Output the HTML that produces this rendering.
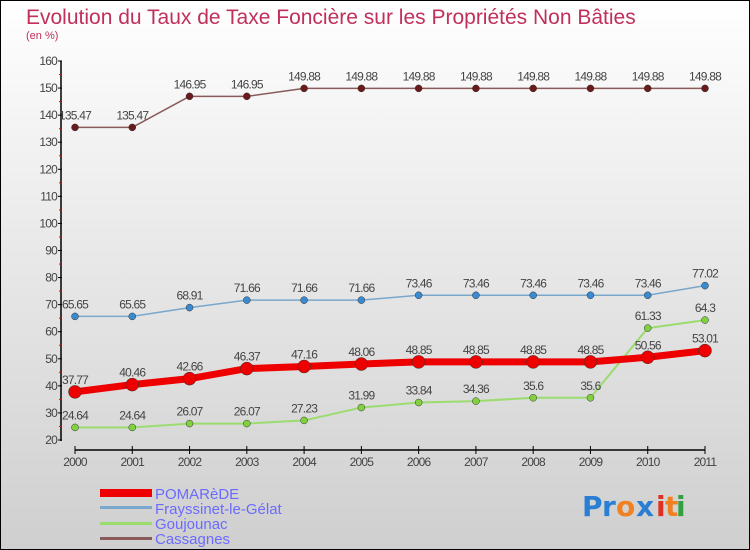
<!DOCTYPE html>
<html><head><meta charset="utf-8"><style>
html,body{margin:0;padding:0}
body{width:750px;height:550px;overflow:hidden;font-family:"Liberation Sans",sans-serif}
#wrap{position:absolute;left:0;top:0;width:748px;height:548px;border:1px solid #000;background:linear-gradient(#fff 0%,#f0f0f0 30%,#cfcfcf 100%)}
</style></head><body>
<div id="wrap">
<svg id="chart" width="750" height="550" style="position:absolute;left:-1px;top:-1px">
<text x="26" y="24" font-size="21" fill="#c0305a">Evolution du Taux de Taxe Foncière sur les Propriétés Non Bâties</text>
<text x="26" y="39" font-size="11" fill="#c0305a">(en %)</text>
<g id="axes"></g>
<g id="series"></g>
<g id="legend">
<rect x="100" y="489" width="52" height="8" fill="#e00"/>
<text x="155" y="499" font-size="15" fill="#6b6bff">POMARèDE</text>
<rect x="100" y="506" width="52" height="3" fill="#7aa7cc"/>
<text x="155" y="514" font-size="15" fill="#6b6bff">Frayssinet-le-Gélat</text>
<rect x="100" y="522" width="52" height="3" fill="#9bdc6e"/>
<text x="155" y="529" font-size="15" fill="#6b6bff">Goujounac</text>
<rect x="100" y="537" width="52" height="3" fill="#8a5a5a"/>
<text x="155" y="544" font-size="15" fill="#6b6bff">Cassagnes</text>
</g>
<g font-size="28" font-family="'DejaVu Sans',sans-serif" font-weight="bold">
<text x="582" y="516" fill="#2a7fd4">P</text><text x="602" y="516" fill="#2a7fd4">r</text><text x="616" y="516" fill="#f08020">o</text><text x="636" y="516" fill="#2a7fd4">x</text><text x="656" y="516" fill="#e03020">i</text><text x="665" y="516" fill="#f08020">t</text><text x="676" y="516" fill="#30a040">i</text>
</g>
</svg>
</div>
<script>
const years=["2000","2001","2002","2003","2004","2005","2006","2007","2008","2009","2010","2011"];
const yTicks=[20,30,40,50,60,70,80,90,100,110,120,130,140,150,160];
const pomarede=[37.77,40.46,42.66,46.37,47.16,48.06,48.85,48.85,48.85,48.85,50.56,53.01];
const frayssinet=[65.65,65.65,68.91,71.66,71.66,71.66,73.46,73.46,73.46,73.46,73.46,77.02];
const goujounac=[24.64,24.64,26.07,26.07,27.23,31.99,33.84,34.36,35.6,35.6,61.33,64.3];
const cassagnes=[135.47,135.47,146.95,146.95,149.88,149.88,149.88,149.88,149.88,149.88,149.88,149.88];
const NS="http://www.w3.org/2000/svg";
const x=i=>75+i*(630/11);
const y=v=>440-(v-20)*(379/140);
function mk(tag,attrs,parent){const e=document.createElementNS(NS,tag);for(const k in attrs)e.setAttribute(k,attrs[k]);parent.appendChild(e);return e;}
const ax=document.getElementById('axes');
let l=mk('line',{x1:61,y1:61,x2:61,y2:441,stroke:'#000','stroke-width':1.5},ax);


yTicks.forEach((t,i)=>{
 mk('line',{x1:58,x2:62,y1:y(t),y2:y(t),stroke:'#000'},ax);
 if(i<yTicks.length-1) mk('line',{x1:59,x2:62,y1:y(t+5),y2:y(t+5),stroke:'#e00'},ax);
 const tx=mk('text',{x:57,y:y(t)+4,'font-size':12,fill:'#444','text-anchor':'end','letter-spacing':'-0.8'},ax);
 tx.textContent=t;
 
 
});
l=mk('line',{x1:75,y1:450,x2:705,y2:450,stroke:'#000','stroke-width':1.5},ax);


years.forEach((yr,i)=>{
 mk('line',{x1:x(i),x2:x(i),y1:446,y2:454,stroke:'#000'},ax);
 const tx=mk('text',{x:x(i),y:466,'font-size':12,fill:'#444','text-anchor':'middle','letter-spacing':'-0.8'},ax);
 tx.textContent=yr;
 
 
});
const sg=document.getElementById('series');
function series(name,data,color,dot,w,r){
 const g=mk('g',{},sg);
 
 
 const p=mk('polyline',{points:data.map((v,i)=>x(i)+','+y(v)).join(' '),fill:'none',stroke:color,'stroke-width':w,'stroke-linejoin':'round'},g);
 
 
 data.forEach((v,i)=>{
  const c=mk('circle',{cx:x(i),cy:y(v),r:r,fill:dot,stroke:'#333','stroke-width':0.5},g);
  
  
  const t=mk('text',{x:x(i),y:y(v)-8,'font-size':12,fill:'#444','text-anchor':'middle','letter-spacing':'-0.8'},g);
  t.textContent=String(v);
  
  
 });
}
series('cassagnes',cassagnes,'#8a5a5a','#6a1a1a',1.5,3.5);
series('frayssinet',frayssinet,'#7aa7cc','#3a8ad0',1.5,3.5);
series('goujounac',goujounac,'#9bdc6e','#80d040',2,3.5);
series('pomarede',pomarede,'#ee0000','#ee0000',7,6.5);
</script>
</body></html>
